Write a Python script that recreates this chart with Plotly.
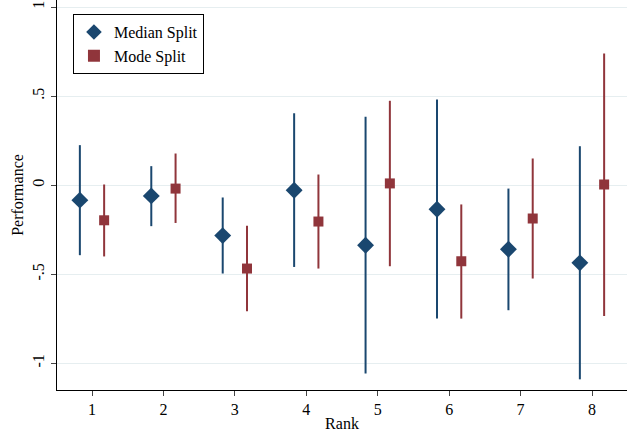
import plotly.graph_objects as go

ranks = [1, 2, 3, 4, 5, 6, 7, 8]
median_est = [-0.084, -0.06, -0.283, -0.028, -0.337, -0.135, -0.36, -0.436]
median_hi = [0.225, 0.107, -0.069, 0.404, 0.384, 0.481, -0.019, 0.219]
median_lo = [-0.393, -0.23, -0.496, -0.459, -1.057, -0.749, -0.702, -1.09]
mode_est = [-0.197, -0.019, -0.468, -0.204, 0.01, -0.427, -0.187, 0.004]
mode_hi = [0.004, 0.178, -0.228, 0.06, 0.474, -0.108, 0.15, 0.74]
mode_lo = [-0.40, -0.212, -0.708, -0.468, -0.455, -0.749, -0.524, -0.734]
ytick_vals = [-1, -0.5, 0, 0.5, 1]
ytick_text = ["-1", "-.5", "0", ".5", "1"]

BLUE = "#1a476f"
RED = "#90353b"
FONT = "Liberation Serif"
off = 0.17

fig = go.Figure()
fig.add_trace(go.Scatter(
    x=[r - off for r in ranks], y=median_est, mode="markers", name="Median Split",
    marker=dict(symbol="diamond", size=13, color=BLUE),
    error_y=dict(type="data", symmetric=False,
                 array=[h - e for h, e in zip(median_hi, median_est)],
                 arrayminus=[e - l for e, l in zip(median_est, median_lo)],
                 width=0, thickness=2, color=BLUE),
))
fig.add_trace(go.Scatter(
    x=[r + off for r in ranks], y=mode_est, mode="markers", name="Mode Split",
    marker=dict(symbol="square", size=10, color=RED),
    error_y=dict(type="data", symmetric=False,
                 array=[h - e for h, e in zip(mode_hi, mode_est)],
                 arrayminus=[e - l for e, l in zip(mode_est, mode_lo)],
                 width=0, thickness=2, color=RED),
))

fig.update_layout(
    width=637, height=435,
    margin=dict(l=57, r=10, t=0, b=45),
    paper_bgcolor="white", plot_bgcolor="white",
    font=dict(family=FONT, size=15, color="black"),
    legend=dict(x=0.028, y=0.964, xanchor="left", yanchor="top",
                bordercolor="black", borderwidth=1, bgcolor="white",
                font=dict(family=FONT, size=16), itemsizing="constant",
                tracegroupgap=0, itemwidth=30),
    xaxis=dict(range=[0.51, 8.49], tickvals=ranks, ticks="outside", ticklen=5,
               showline=True, linecolor="black", linewidth=1.3, showgrid=False,
               zeroline=False, title=dict(text="Rank", standoff=0, font=dict(size=16)),
               tickfont=dict(family=FONT, size=16)),
    yaxis=dict(range=[-1.15, 1.04], tickvals=ytick_vals, ticktext=ytick_text,
               ticks="outside", ticklen=5, tickangle=-90,
               showline=True, linecolor="black", linewidth=1.3,
               showgrid=True, gridcolor="#e6eef0", gridwidth=1, zeroline=False,
               title=dict(text="Performance", standoff=2, font=dict(size=16)),
               tickfont=dict(family=FONT, size=16)),
)

fig.write_html("out.html")
